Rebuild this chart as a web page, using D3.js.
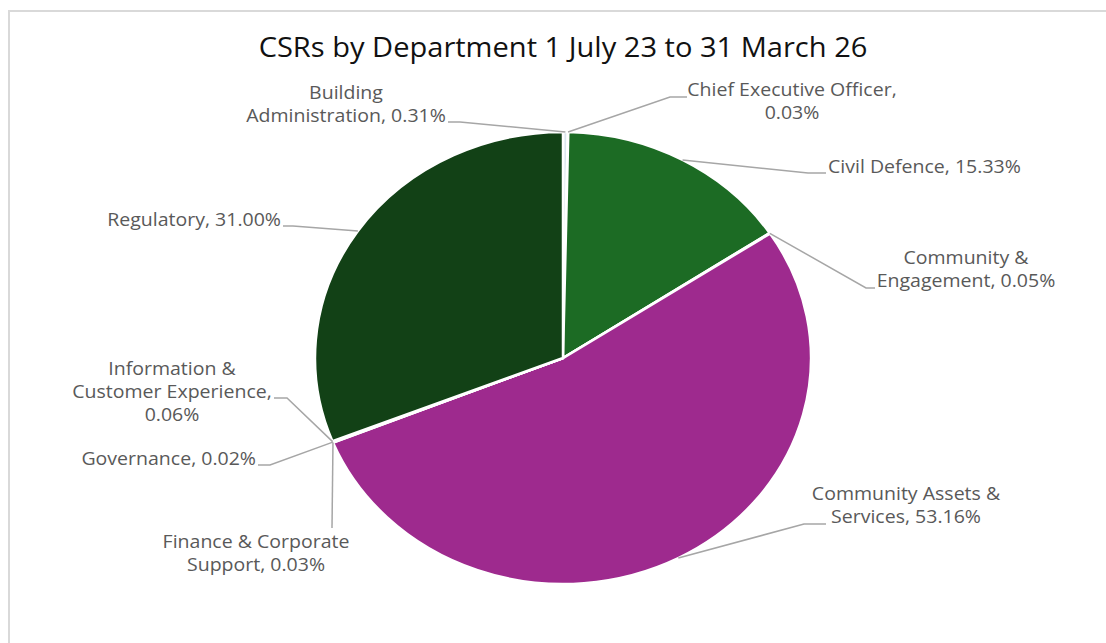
<!DOCTYPE html>
<html>
<head>
<meta charset="utf-8">
<script src="https://cdn.jsdelivr.net/npm/d3@7"></script>
<style>
  body { margin: 0; background: #fff; }
  svg text { font-family: "Open Sans", "Noto Sans", sans-serif; }
</style>
</head>
<body>
<svg id="chart" width="1106" height="643"></svg>
<script>
// data, in the order Excel draws the slices (clockwise from 12 o'clock)
var departments = [
  "Building Administration",
  "Chief Executive Officer",
  "Civil Defence",
  "Community & Engagement",
  "Community Assets & Services",
  "Finance & Corporate Support",
  "Governance",
  "Information & Customer Experience",
  "Regulatory"
];
var shares = [0.31, 0.03, 15.33, 0.05, 53.16, 0.03, 0.02, 0.06, 31.00];
var sliceColours = ["#dbe6ee", "#c9d9c6", "#1c6b24", "#6f9a5d", "#9e2a8e", "#b0b0b0", "#8d8d8d", "#5b8f4d", "#124116"];

// label text lines (as Excel wrapped them)
var labelLines = [
  ["Building", "Administration, 0.31%"],
  ["Chief Executive Officer,", "0.03%"],
  ["Civil Defence, 15.33%"],
  ["Community &", "Engagement, 0.05%"],
  ["Community Assets &", "Services, 53.16%"],
  ["Finance & Corporate", "Support, 0.03%"],
  ["Governance, 0.02%"],
  ["Information &", "Customer Experience,", "0.06%"],
  ["Regulatory, 31.00%"]
];

// label placement: text x, first baseline, leader elbow and leader end
var labelPos = [
  {x: 346, y: 99,  anchor: "middle", elbow: [460, 122], end: [448, 122]},
  {x: 792, y: 96,  anchor: "middle", elbow: [670, 97],  end: [687, 97]},
  {x: 828, y: 173, anchor: "start",  elbow: [808, 173], end: [826, 173]},
  {x: 966, y: 264, anchor: "middle", elbow: [866, 288], end: [875, 288]},
  {x: 906, y: 500, anchor: "middle", elbow: [804, 524], end: [826, 524]},
  {x: 256, y: 548, anchor: "middle", elbow: [332, 528], end: [332, 528]},
  {x: 256, y: 465, anchor: "end",    elbow: [270, 465], end: [258, 465]},
  {x: 172, y: 375, anchor: "middle", elbow: [287, 398], end: [274, 398]},
  {x: 281, y: 226, anchor: "end",    elbow: [293, 226], end: [283, 226]}
];

var svg = d3.select("#chart"),
    width = +svg.attr("width"),
    height = +svg.attr("height");

var cx = 563, cy = 358,
    ry = 226, rx = 248;   // the whole picture is stretched sideways
var sx = rx / ry;

// chart frame
svg.append("path")
  .attr("d", "M9,643V11H1106")
  .attr("fill", "none")
  .attr("stroke", "#d9d9d9")
  .attr("stroke-width", 2);

svg.append("g")
  .attr("transform", "translate(" + cx + ",57) scale(" + sx + ",1)")
  .append("text")
  .attr("text-anchor", "middle")
  .attr("font-size", 26.5)
  .attr("fill", "#111")
  .text("CSRs by Department 1 July 23 to 31 March 26");

var pie = d3.pie().sort(null).value(function(d) { return d; });
var arcs = pie(shares);

var arc = d3.arc().innerRadius(0).outerRadius(ry);
var edge = d3.arc().innerRadius(ry).outerRadius(ry);

var slices = svg.append("g")
  .attr("transform", "translate(" + cx + "," + cy + ") scale(" + sx + ",1)");

slices.selectAll("path")
  .data(arcs)
  .enter()
  .append("path")
  .attr("d", arc)
  .attr("fill", function(d, i) { return sliceColours[i]; })
  .attr("stroke", "#fff")
  .attr("stroke-width", 2.5)
  .attr("vector-effect", "non-scaling-stroke");

// leader lines from the middle of each slice's rim
var leaders = svg.append("g");
arcs.forEach(function(d, i) {
  var c = edge.centroid(d),
      p = [cx + c[0] * sx, cy + c[1]],
      lp = labelPos[i];
  leaders.append("polyline")
    .attr("points", [p, lp.elbow, lp.end].map(function(q) { return q.join(","); }).join(" "))
    .attr("fill", "none")
    .attr("stroke", "#a6a6a6")
    .attr("stroke-width", 1.5);
});

var labels = svg.append("g");
labelLines.forEach(function(lines, i) {
  var lp = labelPos[i];
  var t = labels.append("g")
    .attr("transform", "translate(" + lp.x + "," + lp.y + ") scale(" + sx + ",1)")
    .append("text")
    .attr("text-anchor", lp.anchor)
    .attr("font-size", 17.8)
    .attr("fill", "#595959");
  lines.forEach(function(s, j) {
    t.append("tspan")
      .attr("x", 0)
      .attr("dy", j ? 23 : 0)
      .text(s);
  });
});
</script>
</body>
</html>
